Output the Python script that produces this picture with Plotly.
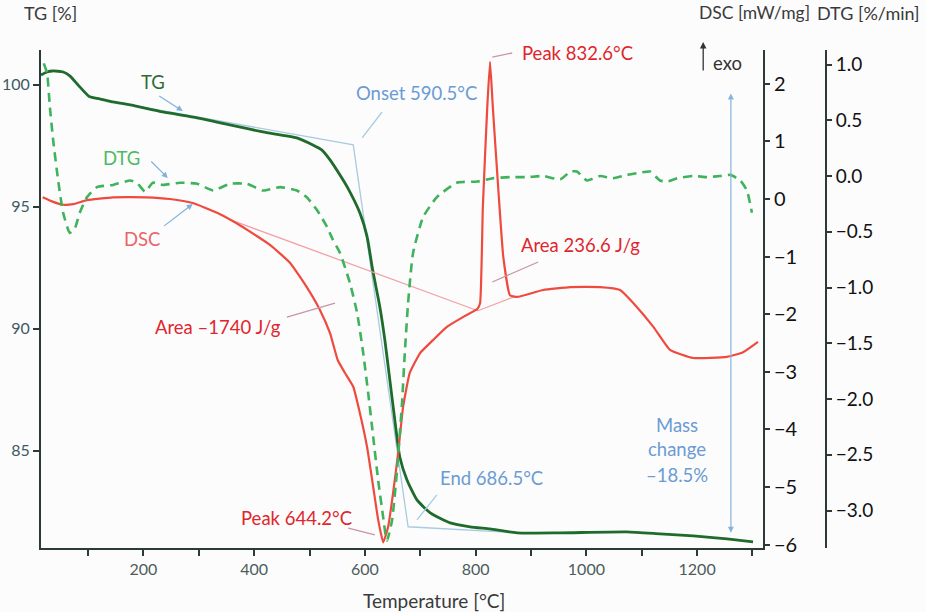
import plotly.graph_objects as go

# ---------------- data ----------------
tg_T = [15, 26, 36, 55, 67, 85, 103, 121, 145, 176, 235, 297, 356, 416, 477, 506, 522, 537,
        555, 568, 591, 604, 614, 627, 636, 645, 654, 663, 676, 694, 718, 754, 790, 826, 875,
        952, 1073, 1133, 1193, 1254, 1301]
tg_val = [100.41, 100.53, 100.57, 100.53, 100.37, 99.92, 99.51, 99.43, 99.30, 99.18, 98.89,
          98.65, 98.36, 98.07, 97.83, 97.54, 97.34, 96.93, 96.31, 95.82, 94.75, 93.77, 92.42,
          90.90, 89.55, 87.91, 86.27, 84.75, 83.81, 82.99, 82.46, 82.05, 81.89, 81.80, 81.64,
          81.64, 81.68, 81.60, 81.52, 81.39, 81.27]

dtg_T = [20, 26, 31, 37, 46, 55, 67, 76, 85, 98, 116, 145, 176, 188, 203, 217, 235, 266, 297,
         326, 356, 387, 416, 447, 477, 495, 514, 532, 542, 555, 573, 586, 597, 606, 615, 624,
         633, 638, 640, 649, 658, 667, 672, 678, 687, 705, 730, 766, 803, 831, 862, 893, 922,
         953, 971, 983, 1001, 1025, 1048, 1074, 1097, 1115, 1133, 1146, 1164, 1193, 1218, 1242,
         1260, 1278, 1290, 1299]
dtg_val = [1.01, 0.92, 0.62, 0.32, -0.04, -0.33, -0.51, -0.47, -0.33, -0.19, -0.10, -0.08,
           -0.04, -0.06, -0.14, -0.06, -0.08, -0.06, -0.07, -0.13, -0.07, -0.07, -0.13, -0.10,
           -0.13, -0.19, -0.31, -0.46, -0.57, -0.69, -0.96, -1.23, -1.59, -1.95, -2.34, -2.73,
           -3.06, -3.24, -3.27, -3.09, -2.64, -2.04, -1.59, -1.14, -0.69, -0.37, -0.19, -0.06,
           -0.05, -0.02, -0.01, -0.01, 0.0, -0.03, 0.04, 0.04, -0.04, 0.0, -0.02, 0.01, 0.03,
           0.04, -0.04, -0.05, -0.02, 0.0, -0.01, 0.0, 0.01, -0.04, -0.13, -0.33]

dsc_T = [18, 37, 55, 73, 98, 145, 206, 248, 289, 333, 380, 429, 465, 495, 519, 537, 551, 564,
         579, 591, 604, 615, 624, 633, 642, 651, 660, 669, 681, 700, 723, 748, 777, 803, 808,
         813, 821, 826, 831, 841, 850, 862, 875, 922, 971, 1025, 1061, 1085, 1121, 1151, 1193,
         1254, 1283, 1310]
dsc_val = [0.03, -0.05, -0.10, -0.09, -0.02, 0.03, 0.03, 0.0, -0.07, -0.24, -0.49, -0.80,
           -1.11, -1.53, -1.93, -2.33, -2.80, -3.02, -3.26, -3.72, -4.31, -5.00, -5.57, -5.96,
           -5.69, -5.10, -4.41, -3.61, -3.02, -2.67, -2.45, -2.22, -2.05, -1.91, -1.81, -0.14,
           1.60, 2.38, 1.60, 0.16, -1.01, -1.67, -1.70, -1.58, -1.53, -1.53, -1.58, -1.81,
           -2.22, -2.62, -2.76, -2.74, -2.66, -2.48]

# onset / end construction lines on the TG curve
onset_T = [176, 579, 678, 875]
onset_TG = [99.18, 97.54, 81.89, 81.64]
# DSC integration baselines
base1_T = [354, 804]
base1_DSC = [-0.35, -1.94]
base2_T = [804, 869]
base2_DSC = [-1.94, -1.70]

x_ticks = [200, 400, 600, 800, 1000, 1200]
tg_ticks = [85, 90, 95, 100]
dsc_ticks = [-6, -5, -4, -3, -2, -1, 0, 1, 2]
dtg_ticks = [1.0, 0.5, 0.0, -0.5, -1.0, -1.5, -2.0, -2.5, -3.0]

# ---------------- styling ----------------
FONT = "Lato"
AX = "#2c3a3a"
TG_C = "#1f6b2c"
DTG_C = "#3fb35b"
DSC_C = "#ef4a3e"
BLUE_LINE = "#a8cbe0"
BLUE_TXT = "#6a9bd3"
RED_TXT = "#e0262c"
LEADER = "#c995a6"
ANN = 18.5

fig = go.Figure()

fig.add_trace(go.Scatter(x=onset_T, y=onset_TG, mode="lines", yaxis="y",
                         line=dict(color=BLUE_LINE, width=1.3), hoverinfo="skip"))
fig.add_trace(go.Scatter(x=base1_T, y=base1_DSC, mode="lines", yaxis="y2",
                         line=dict(color="#f2a1a6", width=1.3), hoverinfo="skip"))
fig.add_trace(go.Scatter(x=base2_T, y=base2_DSC, mode="lines", yaxis="y2",
                         line=dict(color="#f2a1a6", width=1.3), hoverinfo="skip"))
fig.add_trace(go.Scatter(x=dtg_T, y=dtg_val, mode="lines", yaxis="y3", name="DTG",
                         line=dict(color=DTG_C, width=2.6, dash="9px,6px", shape="spline", smoothing=0.5)))
fig.add_trace(go.Scatter(x=dsc_T, y=dsc_val, mode="lines", yaxis="y2", name="DSC",
                         line=dict(color=DSC_C, width=2.2, shape="spline", smoothing=0.4)))
fig.add_trace(go.Scatter(x=tg_T, y=tg_val, mode="lines", yaxis="y", name="TG",
                         line=dict(color=TG_C, width=2.8, shape="spline", smoothing=0.5)))

L, R, T, B = 41, 96, 50, 64
W, H = 926, 612
pw = W - L - R
xdom_end = (763 - L) / pw
dtg_pos = (826 - L) / pw

fig.update_layout(
    width=W, height=H,
    margin=dict(l=L, r=R, t=T, b=B, autoexpand=False),
    paper_bgcolor="#fcfcfd", plot_bgcolor="#fcfcfd",
    showlegend=False,
    font=dict(family=FONT, size=14, color="#333"),
    xaxis=dict(domain=[0, xdom_end], range=[15, 1319], tickvals=x_ticks, automargin=False,
               showline=True, linecolor=AX, linewidth=1.8, ticks="outside", ticklen=6,
               tickcolor=AX, tickwidth=1.5, showgrid=False, zeroline=False,
               tickfont=dict(family=FONT, size=16, color="#4d5b5b"),
               minor=dict(dtick=100, tick0=0, ticks="outside", ticklen=6, tickcolor=AX, tickwidth=1.5)),
    yaxis=dict(range=[81.02, 101.43], tickvals=tg_ticks, showline=True, linecolor=AX,
               automargin=False, linewidth=1.8, ticks="outside", ticklen=6, tickcolor=AX,
               tickwidth=1.5, showgrid=False, zeroline=False,
               tickfont=dict(family=FONT, size=16, color="#3d5a62")),
    yaxis2=dict(range=[-6.059, 2.587], tickvals=dsc_ticks, overlaying="y", side="right",
                anchor="x", automargin=False, showline=True, linecolor=AX, linewidth=1.8,
                ticks="outside", ticklen=5, tickcolor=AX, tickwidth=1.5, showgrid=False,
                zeroline=False, tickfont=dict(family=FONT, size=20, color="#111")),
    yaxis3=dict(range=[-3.336, 1.130], tickvals=dtg_ticks, tickformat=".1f", overlaying="y",
                side="right", anchor="free", position=dtg_pos, automargin=False, showline=True,
                linecolor=AX, linewidth=1.8, ticks="outside", ticklen=5, tickcolor=AX,
                tickwidth=1.5, showgrid=False, zeroline=False,
                tickfont=dict(family=FONT, size=19, color="#111")),
)

def paper_x(px):
    return (px - L) / pw

def paper_y(py):
    return (H - B - py) / (H - T - B)

ann = []
# axis titles
for txt, px, py, sz, xa in [("TG [%]", 22, 13, 18, "left"),
                            ("DSC [mW/mg]", 812, 13, 17.5, "right"),
                            ("DTG [%/min]", 922, 13, 18, "right"),
                            ("Temperature [°C]", 434, 600, 19, "center")]:
    ann.append(dict(text=txt, x=paper_x(px), y=paper_y(py), xref="paper", yref="paper",
                    xanchor=xa, yanchor="middle", showarrow=False,
                    font=dict(size=sz, color="#3a3a3a")))

# curve labels
ann.append(dict(text="TG", x=217, y=100.12, xref="x", yref="y", showarrow=False,
                font=dict(size=ANN, color="#2e6b35")))
ann.append(dict(text="DTG", x=161, y=0.161, xref="x", yref="y3", showarrow=False,
                font=dict(size=ANN, color="#4dba64")))
ann.append(dict(text="DSC", x=197, y=-0.694, xref="x", yref="y2", showarrow=False,
                font=dict(size=ANN, color="#ec6468")))
# label arrows
for tip_x, tip_y, yr, axo, ayo in [(271, 98.93, "y", -25, -16),
                                   (244, -0.018, "y3", -18, -18),
                                   (289, -0.087, "y2", -30, 23)]:
    ann.append(dict(text="", x=tip_x, y=tip_y, xref="x", yref=yr, ax=axo, ay=ayo,
                    showarrow=True, arrowhead=2, arrowsize=1, arrowwidth=1.2,
                    arrowcolor="#7fb1dc"))

# text annotations
ann.append(dict(text="Onset 590.5°C", x=693, y=99.67, xref="x", yref="y", showarrow=False,
                font=dict(size=ANN, color=BLUE_TXT)))
ann.append(dict(text="Peak 832.6°C", x=984, y=2.535, xref="x", yref="y2", showarrow=False,
                font=dict(size=ANN, color=RED_TXT)))
ann.append(dict(text="Area 236.6 J/g", x=989, y=-0.80, xref="x", yref="y2", showarrow=False,
                font=dict(size=ANN, color=RED_TXT)))
ann.append(dict(text="Area –1740 J/g", x=335, y=-2.22, xref="x", yref="y2", showarrow=False,
                font=dict(size=ANN, color=RED_TXT)))
ann.append(dict(text="Peak 644.2°C", x=476, y=-5.54, xref="x", yref="y2", showarrow=False,
                font=dict(size=ANN, color=RED_TXT)))
ann.append(dict(text="End 686.5°C", x=829, y=-4.84, xref="x", yref="y2", showarrow=False,
                font=dict(size=ANN, color=BLUE_TXT)))
for txt, yv in [("Mass", -3.92), ("change", -4.34), ("–18.5%", -4.79)]:
    ann.append(dict(text=txt, x=1164, y=yv, xref="x", yref="y2", showarrow=False,
                    font=dict(size=ANN, color=BLUE_TXT)))
ann.append(dict(text="exo", x=1254, y=2.36, xref="x", yref="y2", showarrow=False,
                font=dict(size=ANN, color="#333")))
# exo arrow (tip above the plot top, so paper coordinates)
ann.append(dict(text="", x=1211, y=paper_y(42), xref="x", yref="paper", ax=0, ay=30,
                showarrow=True, arrowhead=2, arrowsize=1, arrowwidth=1.3, arrowcolor="#333"))
# mass change double arrow
ann.append(dict(text="", x=1261, y=81.64, xref="x", yref="y", ax=1261, ay=99.71,
                axref="x", ayref="y", showarrow=True, arrowhead=2, arrowside="end+start",
                arrowsize=1, arrowwidth=1.2, arrowcolor="#86b5dc"))
fig.update_layout(annotations=ann)

# leader lines
shapes = []
for x0, y0, x1, y1, yr, col in [
        (631, 98.89, 595, 97.83, "y", BLUE_LINE),
        (730, 83.20, 694, 82.17, "y", BLUE_LINE),
        (830, 2.465, 866, 2.535, "y2", LEADER),
        (830, -1.441, 913, -1.094, "y2", LEADER),
        (459, -2.049, 546, -1.806, "y2", LEADER),
        (570, -5.712, 618, -5.833, "y2", LEADER)]:
    shapes.append(dict(type="line", x0=x0, y0=y0, x1=x1, y1=y1, xref="x", yref=yr,
                       line=dict(color=col, width=1.3)))
fig.update_layout(shapes=shapes)

fig.write_html("out.html", config={"displayModeBar": False},
               post_script="document.body.style.margin='0px';document.body.style.background='#fcfcfd';")
